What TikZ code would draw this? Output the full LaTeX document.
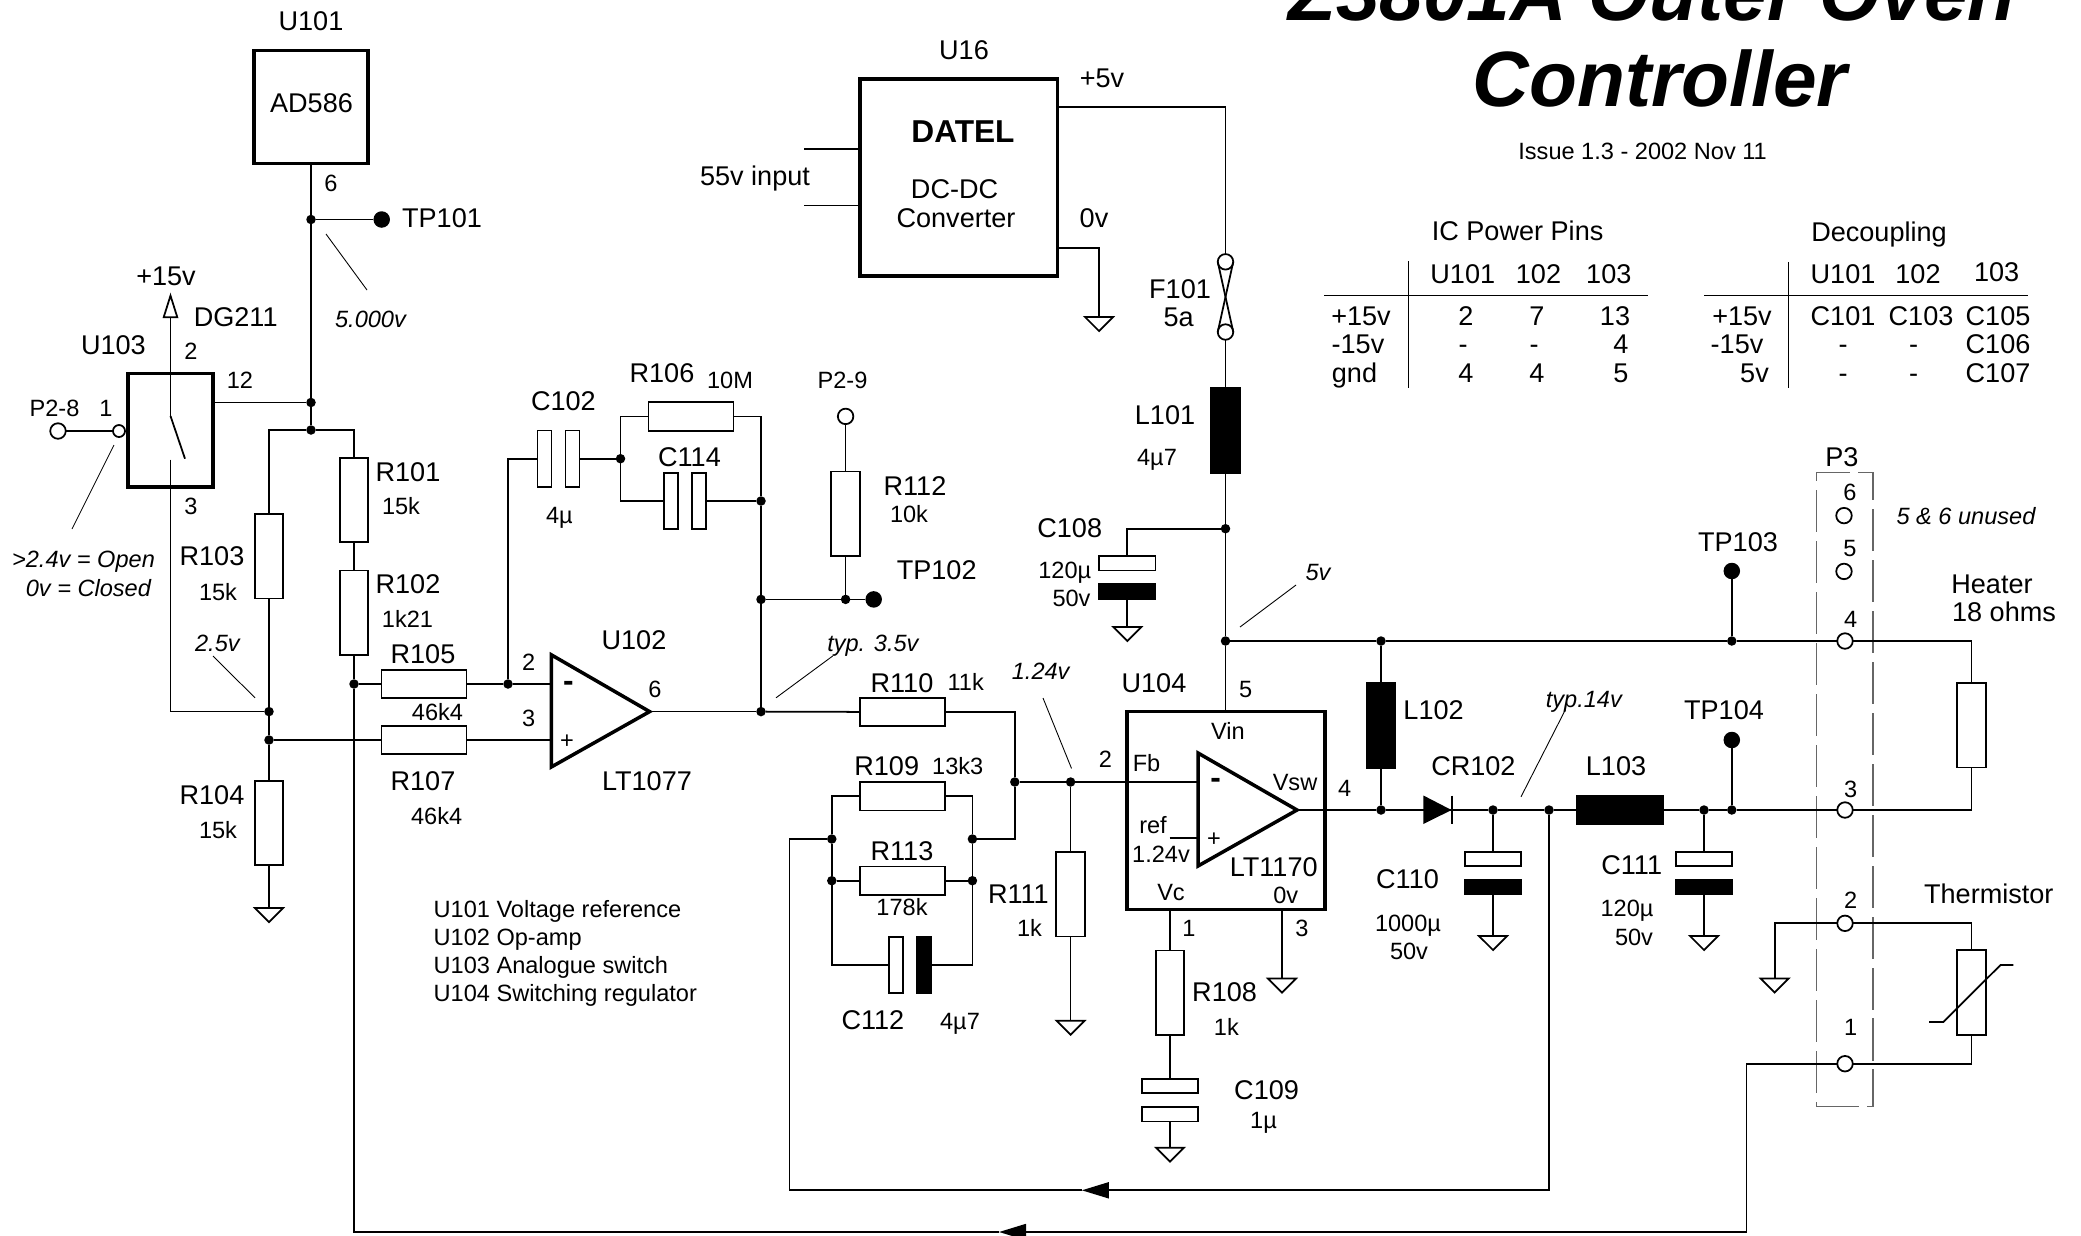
\documentclass[tikz,border=0pt]{standalone}
\usepackage{fontspec}
\setmainfont{Liberation Sans}
\usepackage{xcolor}
\usepackage{tikz}
\usetikzlibrary{shapes.geometric, arrows.meta}
\tikzstyle{wire} = [line width=.5pt]
\tikzstyle{part} = [
    rectangle, draw, line width=.5pt,
    inner sep=0pt, outer sep=0pt,
]
\tikzstyle{rv} = [part, minimum width=.285cm, minimum height=.845cm]
\tikzstyle{rh} = [part, minimum width=.85cm, minimum height=.285cm]
\tikzstyle{platev} = [part, minimum width=.14cm, minimum height=.565cm]
\tikzstyle{plateh} = [part, minimum width=.565cm, minimum height=.145cm]
\tikzstyle{solid part} = [fill=black]
\tikzstyle{chip} = [part, line width=1pt]
\tikzstyle{jdot} = [circle, fill=black, inner sep=0pt, outer sep=0pt, minimum size=.095cm]
\tikzstyle{tpdot} = [circle, fill=black, inner sep=0pt, outer sep=0pt, minimum size=.165cm]
\tikzstyle{pad} = [circle, draw, fill=white, line width=.5pt, inner sep=0pt, outer sep=0pt, minimum size=.155cm]
\tikzstyle{gnd} = [
    isosceles triangle, isosceles triangle apex angle=90,
    shape border rotate=-90, anchor=lower side,
    draw, line width=.5pt, inner sep=0pt, outer sep=0pt,
    minimum height=.14cm,
]
\tikzstyle{arrow} = [wire, -{Triangle[length=.27cm, width=.16cm]}]
\tikzstyle{openarrow} = [wire, -{Triangle[open, length=.255cm, width=.155cm]}]
\tikzstyle{leader} = [line width=.25pt]
\tikzstyle{bigtext} = [inner sep=0pt, text height=5.5pt, text depth=0pt, font=\fontsize{7.7}{9}\selectfont]
\tikzstyle{valtext} = [inner sep=0pt, text height=4.8pt, text depth=0pt, font=\fontsize{6.7}{8}\selectfont]
\tikzstyle{notetext} = [valtext, font=\fontsize{6.7}{8}\selectfont\itshape]
\tikzstyle{titletext} = [inner sep=0pt, anchor=base, font=\fontsize{22.3}{24}\selectfont\bfseries\itshape]

\begin{document}
\begin{tikzpicture}[x=.01cm, y=-.01cm]
    \useasboundingbox (0,0) rectangle (2081,1236);

    % chips
    \node (u101) at (311,107) [chip, minimum width=1.135cm, minimum height=1.127cm] {};
    \node (u103) at (170.5,430.3) [chip, minimum width=.85cm, minimum height=1.133cm] {};
    \node (u16) at (958.8,177.5) [chip, minimum width=1.977cm, minimum height=1.97cm] {};
    \node (u104) at (1226,810.5) [chip, minimum width=1.98cm, minimum height=1.98cm] {};
    \coordinate (u101p6) at (311,163.4);
    \coordinate (u103p12) at (213,402.5);
    \coordinate (u103sw) at (170.5,416);
    \coordinate (u103arm) at (185,458.7);
    \coordinate (u103low) at (170.5,459.5);
    \coordinate (p15) at (170.5,292.6);
    \coordinate (u16in1) at (860,149);
    \coordinate (u16in2) at (860,205.6);
    \coordinate (stub1) at (804,149);
    \coordinate (stub2) at (804,205.6);
    \coordinate (u16p5) at (1057.7,106.8);
    \coordinate (u16p0) at (1057.7,248);
    \coordinate (u104p5) at (1225.5,711.6);
    \coordinate (u104vc) at (1170,909.5);
    \coordinate (u104gnd) at (1282,909.5);
    \coordinate (u104ref) at (1169.7,838);

    % op-amps
    \coordinate (u102n) at (551.3,684);
    \coordinate (u102p) at (551.3,740);
    \coordinate (u102o) at (649.6,711.6);
    \coordinate (u104n) at (1198,782);
    \coordinate (u104p) at (1198,838);
    \coordinate (u104o) at (1297,810);
    \draw [line width=1pt] (551.3,654.8) -- (u102o) -- (551.3,767) -- cycle;
    \draw [line width=1pt] (1198,753) -- (u104o) -- (1198,866) -- cycle;

    % resistors
    \foreach \name/\x/\y in {r101/354/500,r102/354/612.7,r103/269/556.3,r104/269/823,
                             r108/1170/992.7,r111/1070.6/894.3,r112/845.6/513.8,rheat/1971.4/725.2,rtherm/1971.4/992.5} {
        \node (\name) at (\x,\y) [rv] {};
    }
    \foreach \name/\x/\y in {r105/424/684,r106/691/416.4,r107/424/740,r109/902.3/796.3,
                             r110/902.3/711.9,r113/902.3/880.7} {
        \node (\name) at (\x,\y) [rh] {};
    }

    % capacitors
    \foreach \name/\x/\y in {c102a/544.6/458.7,c102b/572.5/458.7,c114a/671.3/501,c114b/699.2/501,c112a/896/965} {
        \node (\name) at (\x,\y) [platev] {};
    }
    \node (c112b) at (924,965) [platev, solid part] {};
    \foreach \name/\x/\y in {c108a/1127.3/563.3,c109a/1170/1086,c109b/1170/1114.2,c110a/1493/859,c111a/1704/859} {
        \node (\name) at (\x,\y) [plateh] {};
    }
    \foreach \name/\x/\y in {c108b/1127.3/591.5,c110b/1493/886.7,c111b/1704/886.7} {
        \node (\name) at (\x,\y) [plateh, solid part] {};
    }

    % inductors
    \node (l101) at (1225.5,430.6) [part, solid part, minimum width=.29cm, minimum height=.85cm] {};
    \node (l102) at (1381,725.5) [part, solid part, minimum width=.29cm, minimum height=.85cm] {};
    \node (l103) at (1619.6,810) [part, solid part, minimum width=.86cm, minimum height=.29cm] {};

    % junctions
    \foreach \name/\x/\y in {j1/311/219.5,j2/311/402.5,j3/311/430,j4/354/684,j5/269/711.6,j6/269/740,
                             j7/508/684,j8/620.5/458.7,j9/761/501,j10/761/599.4,j11/761/711.6,j12/845.6/599.4,
                             j13/1014.8/782,j14/1070.6/782,j15/831.8/839,j16/972.4/839,j17/831.8/880.7,j18/972.4/880.7,
                             j19/1225.5/528.7,j20/1225.5/641,j21/1381/641,j22/1731.8/641,j23/1381/810,
                             j24/1493/810,j25/1549/810,j26/1704/810,j27/1731.8/810} {
        \node (\name) at (\x,\y) [jdot] {};
    }

    % test points and pads
    \foreach \name/\x/\y in {tp101/381.7/219.5,tp102/873.7/599.4,tp103/1731.8/571,tp104/1731.8/740} {
        \node (\name) at (\x,\y) [tpdot] {};
    }
    \foreach \name/\x/\y in {p28/58/431,p29/845.6/416.4,f101a/1225.5/261.8,f101b/1225.5/332,
                             conn6/1844/515.6,conn5/1844/571.4,conn4/1845/641,conn3/1845/810,conn2/1845/923.3,conn1/1845/1063.7} {
        \node (\name) at (\x,\y) [pad] {};
    }
    \node (u103p1) at (119,431) [pad, minimum size=.12cm] {};

    % grounds
    \foreach \name/\x/\y in {g1/269/908,g2/1099/317,g3/1127.3/627,g4/1070.6/1020.7,g5/1170/1147.7,
                             g6/1282/978.5,g7/1493/936,g8/1704/936,g9/1774.7/978.5} {
        \node (\name) at (\x,\y) [gnd] {};
    }

    % P3 outline
    \node (p3box) at (1844.7,789.2) [draw=black!60, line width=.35pt, dash pattern=on 12pt off 2.5pt,
        inner sep=0pt, minimum width=.565cm, minimum height=6.335cm] {};

    % wires, left half
    \draw [wire] (u101p6) -- (j1);
    \draw [wire] (j1) -- (tp101);
    \draw [wire] (j1) -- (j2);
    \draw [wire] (j2) -- (j3);
    \draw [wire] (u103p12) -- (j2);
    \draw [wire] (p28) -- (u103p1);
    \draw [openarrow] (u103sw) -- (p15);
    \draw [wire] (u103sw) -- (u103arm);
    \draw [wire] (u103low) |- (j5);
    \draw [wire] (j3) -| (r101.north);
    \draw [wire] (j3) -| (r103.north);
    \draw [wire] (r101.south) -- (r102.north);
    \draw [wire] (r102.south) -- (j4);
    \draw [wire] (j4) -- (r105.west);
    \draw [wire] (r103.south) -- (j5);
    \draw [wire] (j5) -- (j6);
    \draw [wire] (j6) -- (r104.north);
    \draw [wire] (r104.south) -- (g1.lower side);
    \draw [wire] (j6) -- (r107.west);
    \draw [wire] (r107.east) -- (u102p);
    \draw [wire] (r105.east) -- (j7);
    \draw [wire] (j7) -- (u102n);
    \draw [wire] (j7) |- (c102a.west);
    \draw [wire] (c102b.east) -- (j8);
    \draw [wire] (j8) |- (r106.west);
    \draw [wire] (j8) |- (c114a.west);
    \draw [wire] (r106.east) -| (j9);
    \draw [wire] (c114b.east) -- (j9);
    \draw [wire] (j9) -- (j10);
    \draw [wire] (j10) -- (j11);
    \draw [wire] (j10) -- (j12);
    \draw [wire] (j12) -- (tp102);
    \draw [wire] (j12) -- (r112.south);
    \draw [wire] (r112.north) -- (p29);
    \draw [wire] (u102o) -- (j11);
    \draw [wire] (j11) -- (r110.west);

    % wires, U104
    \draw [wire] (r110.east) -| (j13);
    \draw [wire] (j13) |- (j16);
    \draw [wire] (j13) -- (j14);
    \draw [wire] (j14) -- (u104n);
    \draw [wire] (j14) -- (r111.north);
    \draw [wire] (r111.south) -- (g4.lower side);
    \draw [wire] (r109.west) -| (j15);
    \draw [wire] (r109.east) -| (j16);
    \draw [wire] (j15) -- (j17);
    \draw [wire] (j16) -- (j18);
    \draw [wire] (j17) -- (r113.west);
    \draw [wire] (r113.east) -- (j18);
    \draw [wire] (j17) |- (c112a.west);
    \draw [wire] (j18) |- (c112b.east);
    \draw [wire] (u104ref) -- (u104p);
    \draw [wire] (u104vc) -- (r108.north);
    \draw [wire] (r108.south) -- (c109a.north);
    \draw [wire] (c109b.south) -- (g5.lower side);
    \draw [wire] (u104gnd) -- (g6.lower side);

    % wires, supply
    \draw [wire] (stub1) -- (u16in1);
    \draw [wire] (stub2) -- (u16in2);
    \draw [wire] (u16p5) -| (f101a.north);
    \draw [wire] (u16p0) -| (g2.lower side);
    \draw [wire] (f101a.west) -- (f101b.east);
    \draw [wire] (f101a.east) -- (f101b.west);
    \draw [wire] (f101b.south) -- (l101.north);
    \draw [wire] (l101.south) -- (j19);
    \draw [wire] (j19) -| (c108a.north);
    \draw [wire] (c108b.south) -- (g3.lower side);
    \draw [wire] (j19) -- (j20);
    \draw [wire] (j20) -- (u104p5);
    \draw [wire] (j20) -- (j21);
    \draw [wire] (j21) -- (j22);
    \draw [wire] (j22) -- (conn4);
    \draw [wire] (j22) -- (tp103);
    \draw [wire] (j21) -- (l102.north);
    \draw [wire] (l102.south) -- (j23);

    % wires, output
    \draw [wire] (u104o) -- (j23);
    \draw [wire] (j23) -- (j24);
    \draw [wire] (j24) -- (j25);
    \draw [wire] (j25) -- (l103.west);
    \draw [wire] (l103.east) -- (j26);
    \draw [wire] (j26) -- (j27);
    \draw [wire] (j27) -- (conn3);
    \draw [wire] (j27) -- (tp104);
    \draw [wire] (j24) -- (c110a.north);
    \draw [wire] (c110b.south) -- (g7.lower side);
    \draw [wire] (j26) -- (c111a.north);
    \draw [wire] (c111b.south) -- (g8.lower side);
    \draw [wire] (conn4) -| (rheat.north);
    \draw [wire] (conn3) -| (rheat.south);
    \draw [wire] (conn2) -| (rtherm.north);
    \draw [wire] (conn1) -| (rtherm.south);
    \draw [wire] (conn2) -| (g9.lower side);
    \fill (1423.4,795.5) -- (1451.5,810) -- (1423.4,824) -- cycle;
    \draw [wire] (1452,795.5) -- (1452,824);
    \draw [wire] (1929,1022) -- (1943.3,1022) -- (2000.5,965) -- (2013.4,965);

    % feedback lines
    \coordinate (fb1) at (1081.8,1190.3);
    \coordinate (fb1c) at (789.4,839);
    \coordinate (fb2) at (999,1232);
    \coordinate (fb2c) at (354,1232);
    \coordinate (fb2r) at (1746.6,1063.7);
    \draw [arrow] (j25) |- (fb1);
    \draw [wire] (fb1) -| (fb1c) -- (j15);
    \draw [arrow] (conn1) -- (fb2r) |- (fb2);
    \draw [wire] (fb2) -- (fb2c) -- (j4);

    % leaders
    \foreach \name/\xa/\ya/\xb/\yb in {n1/326/234/367/290,n2/114/445/72/529,n3/213/656/255/697.8,n4/832.7/656/776/697.8,
                                       n5/1043/698/1071.5/768.4,n6/1296/585/1240/627,n7/1565.5/709.5/1521/796.8} {
        \coordinate (\name a) at (\xa,\ya);
        \coordinate (\name b) at (\xb,\yb);
        \draw [leader] (\name a) -- (\name b);
    }

    % labels
    \foreach \txt/\x/\y [count=\i] in {U101/311/20.6,AD586/311.5/103,TP101/442/217.5,+15v/166/275.6,DG211/235.7/316.7,
            U103/113.4/344.8,R101/408/472,R102/408/584,R103/212/556,R104/212/794.7,R105/423/653.5,R107/423/780.5,
            R106/662/372.5,C102/563.4/401,C114/689.5/456.7,U102/634/639.8,LT1077/647/780.5,U16/964/50,+5v/1102/78,
            DC-DC/954.6/189,Converter/956/217.5,55v input/755/176,0v/1094/217.5,F101/1180/288.6,5a/1178.6/317,
            L101/1165/415,C108/1069.7/528,R112/915/485.6,TP102/936.7/569.4,TP103/1738/541.7,L102/1433.6/710,
            CR102/1473.4/766.3,L103/1616/766.3,TP104/1724/710,C110/1407.5/878.7,C111/1631.7/864.5,R110/902/683,
            R109/886.7/766.3,R113/902/850.7,R111/1018.4/894,C112/872.9/1020,R108/1224.6/991.5,C109/1266.6/1089.7,
            U104/1154/683,LT1170/1273.7/866.5,P3/1841.8/456.7,Thermistor/1988.8/894,Heater/1992/584,18 ohms/2004/612} {
        \node (lbl\i) at (\x,\y) [bigtext] {\txt};
    }
    \node (datel) at (963,132.5) [bigtext, font=\fontsize{9}{10}\selectfont\bfseries] {DATEL};

    % values and pin numbers
    \foreach \txt/\x/\y [count=\i] in {15k/401/506,1k21/407.5/619.5,15k/218/592,15k/218/830.4,4µ/559.4/515,10M/730/380,
            P2-9/842.5/380,P2-8/54.5/408,10k/909/514,4µ7/1157/457.5,120µ/1064.8/570,50v/1071.5/598,46k4/437.5/712,
            46k4/436.6/816,11k/965.7/682.4,13k3/957.7/766.3,178k/902/907,4µ7/960/1020.7,1k/1029.5/927.8,1k/1226.4/1026.8,
            1µ/1263.5/1120,1000µ/1408/923,50v/1409/951,120µ/1627/908.3,50v/1634/936.7,
            6/331/183,12/240/380,2/191/351,3/191/506,1/106/408,2/528.6/661.7,3/528.6/717.6,6/655/689,5/1245.6/689,
            2/1105.4/759.4,4/1344.7/788,1/1189/927.8,3/1302/927.8,6/1850/492,5/1850/548,4/1850.7/619.5,3/1850.7/788.6,
            2/1850.7/900,1/1850.7/1027,Vin/1228/731,Fb/1146.5/763,Vsw/1295/781.7,ref/1153/825,1.24v/1161/854,Vc/1171/892,
            0v/1285.8/895,+/567/740,+/1214/838,Issue 1.3 - 2002 Nov 11/1642.6/151} {
        \node (val\i) at (\x,\y) [valtext] {\txt};
    }
    \node (u102minus) at (568.3,683) [valtext, font=\fontsize{9}{9}\selectfont\bfseries] {-};
    \node (u104minus) at (1215.7,780.5) [valtext, font=\fontsize{9}{9}\selectfont\bfseries] {-};

    % voltages
    \foreach \txt/\x/\y [count=\i] in {5.000v/370.5/319,>2.4v = Open/83.5/559,0v = Closed/88.4/588,2.5v/217.4/642.6,
            typ. 3.5v/872.9/643.4,1.24v/1040.7/671.4,5v/1318/572,typ.14v/1583.8/698.6,5 \& 6 unused/1966/516} {
        \node (note\i) at (\x,\y) [notetext] {\txt};
    }

    % parts list
    \foreach \txt/\y [count=\i] in {U101 Voltage reference/909.5,U102 Op-amp/937.5,U103 Analogue switch/965,U104 Switching regulator/993.5} {
        \node (part\i) at (433,\y) [valtext, anchor=west] {\txt};
    }

    % power pin table
    \foreach \txt/\x/\y [count=\i] in {IC Power Pins/1517.6/231,U101/1462.8/273.6,102/1538.5/273.6,103/1608.8/273.6,
            +15v/1361/316.3,-15v/1358/344,gnd/1354.5/373,2/1466/316.3,7/1537/316.3,13/1615/316.3,-/1463/344,-/1534/344,
            4/1621/344,4/1466/373,4/1537/373,5/1621/373} {
        \node (pin\i) at (\x,\y) [bigtext] {\txt};
    }
    \coordinate (pinl) at (1324,295.4);
    \coordinate (pinr) at (1647.6,295.4);
    \coordinate (pint) at (1408.6,261);
    \coordinate (pinb) at (1408.6,387.5);
    \draw [wire] (pinl) -- (pinr);
    \draw [wire] (pint) -- (pinb);

    % decoupling table
    \foreach \txt/\x/\y [count=\i] in {Decoupling/1879/232,U101/1843/273.6,102/1918/273.6,103/1996.7/272,
            +15v/1742/316.3,-15v/1737/344,5v/1754.5/373,C101/1843/316.3,C103/1921/316.3,C105/1998/316.3,-/1843/344,
            -/1913.5/344,C106/1998/344,-/1843/373,-/1913.5/373,C107/1998/373} {
        \node (dec\i) at (\x,\y) [bigtext] {\txt};
    }
    \coordinate (decl) at (1704.4,295.4);
    \coordinate (decr) at (2028,295.4);
    \coordinate (dect) at (1788.5,261.8);
    \coordinate (decb) at (1788.5,388);
    \draw [wire] (decl) -- (decr);
    \draw [wire] (dect) -- (decb);

    % title
    \node (title1) at (1652,20.6) [titletext] {Z3801A Outer Oven};
    \node (title2) at (1660,106) [titletext] {Controller};
\end{tikzpicture}
\end{document}
